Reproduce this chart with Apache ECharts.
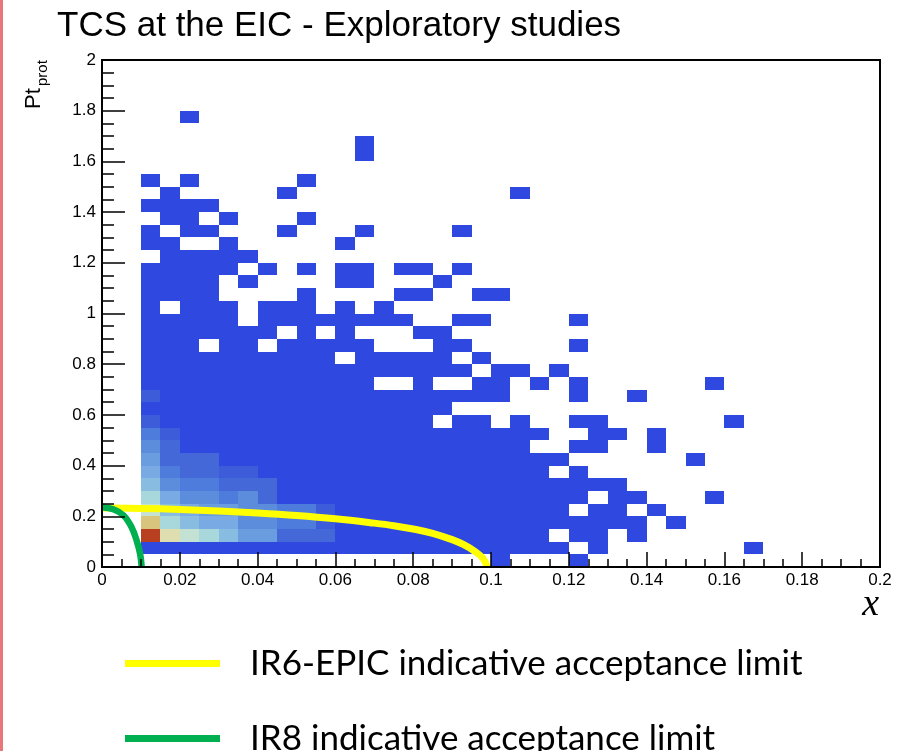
<!DOCTYPE html>
<html><head><meta charset="utf-8">
<script src="https://cdn.jsdelivr.net/npm/echarts@6/dist/echarts.min.js"></script>
<style>html,body{margin:0;padding:0;background:#fff}#c{width:903px;height:751px}</style>
</head><body><div id="c"></div>
<script>
// ---- histogram binning ----
const binWidthX = 0.005;   // x bin width
const binWidthY = 0.05;    // Pt bin width
const xTicks = [0, 0.02, 0.04, 0.06, 0.08, 0.1, 0.12, 0.14, 0.16, 0.18, 0.2];
const yTicks = [0, 0.2, 0.4, 0.6, 0.8, 1, 1.2, 1.4, 1.6, 1.8, 2];

// ---- counts per Pt row (row NN covers Pt in [NN*0.05,(NN+1)*0.05)), one entry per x bin, trailing empty bins omitted ----
const row00 = [0,0,0,0,0,0,0,0,0,0, 0,0,0,0,0,0,0,0,0,0, 1,0,0,0,1];
const row01 = [0,0,1,1,1,1,1,1,1,1, 1,1,1,1,1,1,1,1,1,1, 1,1,1,1,0,1,0,0,0,0, 0,0,0,1];
const row02 = [0,0,16,11,10,9,8,6,6,3, 3,3,1,1,1,1,1,1,1,1, 1,1,1,0,1,1,0,1];
const row03 = [0,0,12,9,8,7,7,5,5,4, 4,2,1,1,1,1,1,1,1,1, 1,1,1,1,1,1,1,1,0,1];
const row04 = [0,0,10,8,7,6,6,5,5,4, 4,2,1,1,1,1,1,1,1,1, 1,1,1,1,0,1,1,0,1];
const row05 = [0,0,9,7,5,5,4,5,3,1, 1,1,1,1,1,1,1,1,1,1, 1,1,1,1,1,0,1,1,0,0, 0,1];
const row06 = [0,0,8,5,4,4,3,3,3,1, 1,1,1,1,1,1,1,1,1,1, 1,1,1,1,1,1,1];
const row07 = [0,0,7,4,3,3,2,2,1,1, 1,1,1,1,1,1,1,1,1,1, 1,1,1,0,1];
const row08 = [0,0,6,3,3,3,1,1,1,1, 1,1,1,1,1,1,1,1,1,1, 1,1,1,1,0,0,0,0,0,0, 1];
const row09 = [0,0,5,3,1,1,1,1,1,1, 1,1,1,1,1,1,1,1,1,1, 1,1,0,0,1,1,0,0,1];
const row10 = [0,0,4,2,1,1,1,1,1,1, 1,1,1,1,1,1,1,1,1,1, 1,1,1,0,0,1,1,0,1];
const row11 = [0,0,2,1,1,1,1,1,1,1, 1,1,1,1,1,1,1,0,1,1, 0,1,0,0,1,1,0,0,0,0, 0,0,1];
const row12 = [0,0,1,1,1,1,1,1,1,1, 1,1,1,1,1,1,1,1];
const row13 = [0,0,2,1,1,1,1,1,1,1, 1,1,1,1,1,1,1,1,1,1, 1,0,0,0,1,0,0,1];
const row14 = [0,0,1,1,1,1,1,1,1,1, 1,1,1,1,0,0,1,0,0,1, 1,0,1,0,1,0,0,0,0,0, 0,1];
const row15 = [0,0,1,1,1,1,1,1,1,1, 1,1,1,1,1,1,1,1,1,0, 1,1,0,1];
const row16 = [0,0,1,1,1,1,1,1,1,1, 1,1,0,1,1,1,1,1,0,1];
const row17 = [0,0,1,1,1,0,1,1,0,1, 1,1,1,1,0,0,0,1,1,0, 0,0,0,0,1];
const row18 = [0,0,1,1,1,1,1,1,1,0, 1,0,1,0,0,0,1,1];
const row19 = [0,0,1,1,1,1,1,0,1,1, 1,1,1,1,1,1,0,0,1,1, 0,0,0,0,1];
const row20 = [0,0,1,0,1,1,1,0,1,1, 1,0,1,0,1];
const row21 = [0,0,1,1,1,1,0,0,0,0, 1,0,0,0,0,1,1,0,0,1, 1];
const row22 = [0,0,1,1,1,1,0,1,0,0, 0,0,1,1,0,0,0,1];
const row23 = [0,0,1,1,1,1,1,0,1,0, 1,0,1,1,0,1,1,0,1];
const row24 = [0,0,0,1,1,1,1,1];
const row25 = [0,0,1,1,0,0,1,0,0,0, 0,0,1];
const row26 = [0,0,1,0,1,1,0,0,0,1, 0,0,0,1,0,0,0,0,1];
const row27 = [0,0,0,1,1,0,1,0,0,0, 1];
const row28 = [0,0,1,1,1,1];
const row29 = [0,0,0,1,0,0,0,0,0,1, 0,0,0,0,0,0,0,0,0,0, 0,1];
const row30 = [0,0,1,0,1,0,0,0,0,0, 1];
const row31 = [];
const row32 = [0,0,0,0,0,0,0,0,0,0, 0,0,0,1];
const row33 = [0,0,0,0,0,0,0,0,0,0, 0,0,0,1];
const row34 = [];
const row35 = [0,0,0,0,1];

// ---- acceptance limit curves ----
const ir6X = [0, 0.01, 0.02, 0.03, 0.04, 0.05, 0.06, 0.07, 0.075, 0.08, 0.085, 0.09, 0.093, 0.096, 0.098, 0.099];
const ir6Y = [0.233, 0.231, 0.227, 0.221, 0.213, 0.203, 0.19, 0.173, 0.163, 0.15, 0.133, 0.108, 0.088, 0.06, 0.033, 0];
const ir8X = [0, 0.0029, 0.0055, 0.0076, 0.0089, 0.0098, 0.0102];
const ir8Y = [0.236, 0.228, 0.204, 0.157, 0.105, 0.052, 0];

// ---- legend labels ----
const legendNames = ['IR6-EPIC indicative acceptance limit', 'IR8 indicative acceptance limit'];

const rows = [row00,row01,row02,row03,row04,row05,row06,row07,row08,row09,row10,row11,row12,row13,row14,row15,row16,row17,row18,row19,row20,row21,row22,row23,row24,row25,row26,row27,row28,row29,row30,row31,row32,row33,row34,row35];
const cells = [];
rows.forEach((r, j) => r.forEach((v, i) => { if (v > 0) cells.push([+(i*binWidthX).toFixed(4), +(j*binWidthY).toFixed(4), v]); }));

const palette = ['#2F48E0','#3C5CDA','#4468D8','#4E7CDC','#5C8CDC','#6A9CE0','#7AAAE4','#88BCE0','#A8D8DC','#C4E2D4','#DEDEB0','#D8C47C','#D0A060','#C88048','#C06034','#B84020'];

const chart = echarts.init(document.getElementById('c'), null, {renderer:'canvas'});
const axisFont = 'Liberation Sans, Arial, sans-serif';
const legendFont = 'Lato, Noto Sans, sans-serif';
const legendCommon = {
  orient: 'vertical', left: 120, itemWidth: 95, itemHeight: 7, icon: 'rect',
  textStyle: {fontSize: 35, fontFamily: legendFont, color: '#000', padding: [0,0,6,25]}
};
chart.setOption({
  animation: false,
  backgroundColor: '#fff',
  grid: {left: 102, top: 60, width: 778, height: 507, show: true, borderColor: '#000', borderWidth: 2, backgroundColor: 'transparent'},
  xAxis: {
    type: 'value', min: xTicks[0], max: xTicks[xTicks.length-1], interval: xTicks[1]-xTicks[0], z: 10,
    axisLine: {show: true, onZero: false, lineStyle: {color: '#000', width: 2}},
    axisTick: {show: true, inside: true, length: 15, lineStyle: {color: '#000', width: 1.5}},
    minorTick: {show: true, splitNumber: 4, length: 8, lineStyle: {color: '#000', width: 1.5}},
    splitLine: {show: false},
    axisLabel: {fontSize: 17, color: '#000', margin: 5, fontFamily: axisFont}
  },
  yAxis: {
    type: 'value', min: yTicks[0], max: yTicks[yTicks.length-1], interval: yTicks[1]-yTicks[0], z: 10,
    axisLine: {show: true, onZero: false, lineStyle: {color: '#000', width: 2}},
    axisTick: {show: true, inside: true, length: 23, lineStyle: {color: '#000', width: 1.5}},
    minorTick: {show: true, splitNumber: 4, length: 12, lineStyle: {color: '#000', width: 1.5}},
    splitLine: {show: false},
    axisLabel: {fontSize: 17, color: '#000', margin: 6, fontFamily: axisFont}
  },
  visualMap: {type: 'continuous', show: false, min: 1, max: 16, dimension: 2, seriesIndex: 0, inRange: {color: palette}},
  legend: [
    Object.assign({}, legendCommon, {top: 641, data: [legendNames[0]]}),
    Object.assign({}, legendCommon, {top: 716, data: [legendNames[1]]})
  ],
  series: [
    {
      type: 'custom', name: 'counts', data: cells, encode: {x: 0, y: 1}, z: 2,
      renderItem: function (params, api) {
        const x0 = api.value(0), y0 = api.value(1);
        const p0 = api.coord([x0, y0]);
        const p1 = api.coord([x0 + binWidthX, y0 + binWidthY]);
        const xa = Math.round(p0[0]), xb = Math.round(p1[0]);
        const ya = Math.round(p1[1]), yb = Math.round(p0[1]);
        const c = api.visual('color');
        return {type: 'rect', shape: {x: xa, y: ya, width: xb - xa, height: yb - ya}, style: {fill: c}};
      }
    },
    {
      type: 'line', name: legendNames[0], data: ir6X.map((x, k) => [x, ir6Y[k]]),
      smooth: 0.4, showSymbol: false, color: '#FFFF00', z: 5,
      lineStyle: {color: '#FFFF00', width: 7, join: 'round', cap: 'butt'}
    },
    {
      type: 'line', name: legendNames[1], data: ir8X.map((x, k) => [x, ir8Y[k]]),
      smooth: 0.4, showSymbol: false, color: '#00B050', z: 6,
      lineStyle: {color: '#00B050', width: 6.5, join: 'round', cap: 'butt'}
    }
  ],
  graphic: [
    {type: 'rect', shape: {x: 0, y: 0, width: 3, height: 751}, style: {fill: '#E87878'}, z: 100},
    {type: 'text', x: 57, y: 26, style: {text: 'TCS at the EIC - Exploratory studies', fontSize: 35, fontFamily: axisFont, fill: '#000', textVerticalAlign: 'middle'}},
    {type: 'text', x: 45, y: 109, rotation: Math.PI/2, style: {text: 'Pt', fontSize: 22, fontFamily: axisFont, fill: '#000', textAlign: 'left', textVerticalAlign: 'bottom'}},
    {type: 'text', x: 50, y: 86, rotation: Math.PI/2, style: {text: 'prot', fontSize: 15, fontFamily: axisFont, fill: '#000', textAlign: 'left', textVerticalAlign: 'bottom'}},
    {type: 'text', x: 879, y: 605, style: {text: 'x', fontSize: 38, fontStyle: 'italic', fontFamily: 'Liberation Serif, DejaVu Serif, serif', fill: '#000', textAlign: 'right', textVerticalAlign: 'middle'}}
  ]
});
</script></body></html>
